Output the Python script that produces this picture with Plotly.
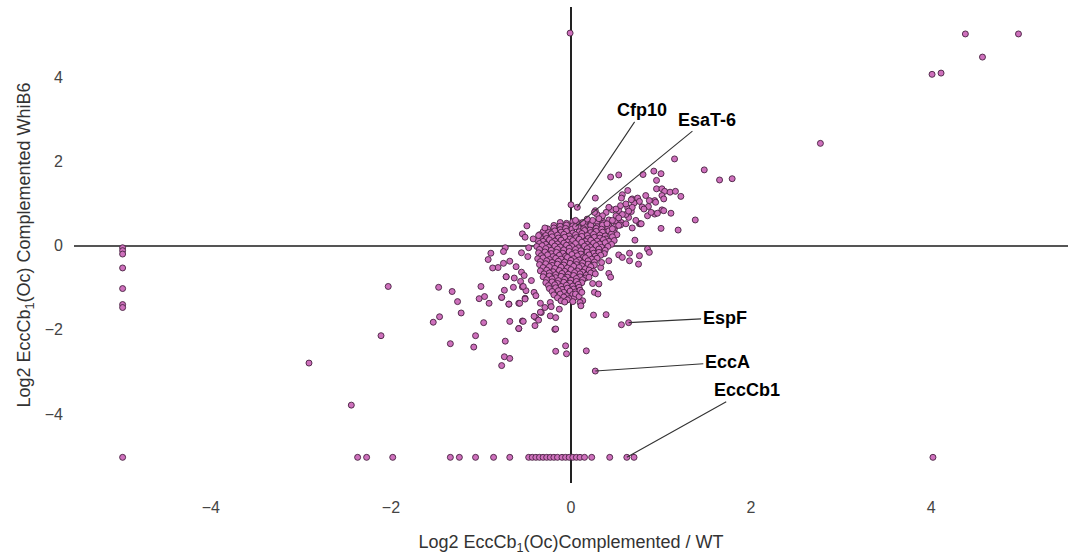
import plotly.graph_objects as go

# ---- data (log2 ratios) ----
core_points = [
    (-0.12, 0.55), (-0.05, 0.53), (0.02, 0.57), (0.09, 0.54), (0.16, 0.56), (0.22, 0.52), (0.29, 0.57), (0.36, 0.55), (0.42, 0.53), (0.49, 0.58), (0.56, 0.55),
    (-0.19, 0.48), (-0.12, 0.46), (-0.05, 0.49), (0.02, 0.47), (0.09, 0.50), (0.15, 0.46), (0.22, 0.48), (0.29, 0.45), (0.35, 0.49), (0.42, 0.47), (0.49, 0.45), (0.55, 0.49),
    (-0.26, 0.40), (-0.19, 0.42), (-0.12, 0.38), (-0.06, 0.41), (0.01, 0.39), (0.08, 0.43), (0.14, 0.40), (0.21, 0.37), (0.28, 0.41), (0.34, 0.39), (0.41, 0.42), (0.48, 0.38),
    (-0.31, 0.33), (-0.25, 0.31), (-0.18, 0.35), (-0.11, 0.32), (-0.05, 0.34), (0.02, 0.30), (0.09, 0.33), (0.15, 0.36), (0.22, 0.31), (0.28, 0.34), (0.35, 0.32), (0.42, 0.35), (0.48, 0.31),
    (-0.35, 0.26), (-0.28, 0.24), (-0.22, 0.28), (-0.15, 0.25), (-0.08, 0.27), (-0.02, 0.23), (0.05, 0.26), (0.12, 0.29), (0.18, 0.24), (0.25, 0.27), (0.32, 0.25), (0.38, 0.23), (0.45, 0.28), (0.51, 0.26),
    (-0.34, 0.19), (-0.27, 0.17), (-0.21, 0.21), (-0.14, 0.18), (-0.07, 0.20), (-0.01, 0.16), (0.06, 0.19), (0.12, 0.22), (0.19, 0.17), (0.26, 0.20), (0.32, 0.18), (0.39, 0.16), (0.46, 0.21),
    (-0.37, 0.12), (-0.31, 0.10), (-0.24, 0.14), (-0.18, 0.11), (-0.11, 0.13), (-0.04, 0.09), (0.02, 0.12), (0.09, 0.15), (0.16, 0.10), (0.22, 0.13), (0.29, 0.11), (0.36, 0.14), (0.42, 0.10), (0.48, 0.12),
    (-0.35, 0.05), (-0.28, 0.03), (-0.21, 0.07), (-0.15, 0.04), (-0.08, 0.06), (-0.01, 0.02), (0.05, 0.05), (0.12, 0.08), (0.18, 0.03), (0.25, 0.06), (0.32, 0.04), (0.38, 0.07), (0.45, 0.03),
    (-0.38, -0.02), (-0.32, 0.00), (-0.25, -0.04), (-0.18, -0.01), (-0.12, -0.03), (-0.05, 0.01), (0.01, -0.02), (0.08, -0.05), (0.15, -0.01), (0.21, -0.03), (0.28, 0.00), (0.34, -0.04), (0.41, -0.02),
    (-0.35, -0.09), (-0.28, -0.07), (-0.22, -0.11), (-0.15, -0.08), (-0.08, -0.10), (-0.02, -0.06), (0.05, -0.09), (0.11, -0.12), (0.18, -0.07), (0.24, -0.10), (0.31, -0.08), (0.38, -0.11),
    (-0.36, -0.17), (-0.29, -0.15), (-0.22, -0.19), (-0.16, -0.16), (-0.09, -0.18), (-0.02, -0.14), (0.05, -0.17), (0.11, -0.20), (0.18, -0.15), (0.25, -0.18), (0.31, -0.16), (0.37, -0.19),
    (-0.33, -0.24), (-0.26, -0.22), (-0.20, -0.26), (-0.13, -0.23), (-0.06, -0.25), (0.01, -0.21), (0.07, -0.24), (0.14, -0.27), (0.20, -0.22), (0.27, -0.25), (0.33, -0.23),
    (-0.37, -0.31), (-0.31, -0.29), (-0.24, -0.33), (-0.17, -0.30), (-0.11, -0.32), (-0.04, -0.28), (0.03, -0.31), (0.09, -0.34), (0.16, -0.29), (0.23, -0.32), (0.29, -0.30),
    (-0.34, -0.38), (-0.27, -0.36), (-0.21, -0.40), (-0.14, -0.37), (-0.07, -0.39), (0.00, -0.35), (0.06, -0.38), (0.13, -0.41), (0.19, -0.36), (0.26, -0.39),
    (-0.35, -0.45), (-0.28, -0.43), (-0.21, -0.47), (-0.15, -0.44), (-0.08, -0.46), (-0.01, -0.42), (0.06, -0.45), (0.12, -0.48), (0.19, -0.44), (0.26, -0.46),
    (-0.31, -0.52), (-0.24, -0.50), (-0.18, -0.54), (-0.11, -0.51), (-0.04, -0.53), (0.03, -0.49), (0.09, -0.52), (0.16, -0.55), (0.22, -0.50),
    (-0.34, -0.60), (-0.27, -0.58), (-0.20, -0.62), (-0.13, -0.59), (-0.07, -0.61), (0.00, -0.57), (0.07, -0.60), (0.13, -0.63), (0.20, -0.58), (0.25, -0.61),
    (-0.30, -0.67), (-0.24, -0.65), (-0.17, -0.69), (-0.10, -0.66), (-0.03, -0.68), (0.04, -0.64), (0.10, -0.67), (0.17, -0.70), (0.22, -0.65),
    (-0.31, -0.74), (-0.24, -0.72), (-0.17, -0.76), (-0.11, -0.73), (-0.04, -0.75), (0.03, -0.71), (0.10, -0.74), (0.16, -0.77),
    (-0.27, -0.81), (-0.21, -0.79), (-0.14, -0.83), (-0.07, -0.80), (0.00, -0.82), (0.06, -0.78), (0.13, -0.81),
    (-0.28, -0.88), (-0.21, -0.86), (-0.15, -0.90), (-0.08, -0.87), (-0.01, -0.89), (0.06, -0.85), (0.12, -0.88),
    (-0.25, -0.95), (-0.18, -0.93), (-0.11, -0.97), (-0.05, -0.94), (0.02, -0.96), (0.08, -0.92),
    (-0.24, -1.02), (-0.17, -1.00), (-0.10, -1.04), (-0.04, -1.01), (0.03, -1.03), (0.09, -0.99),
    (-0.21, -1.09), (-0.14, -1.07), (-0.08, -1.11), (-0.01, -1.08), (0.05, -1.10), (0.10, -1.06),
    (-0.19, -1.17), (-0.12, -1.15), (-0.05, -1.19), (0.02, -1.16), (0.07, -1.18),
    (-0.15, -1.24), (-0.08, -1.22), (-0.02, -1.26), (0.04, -1.23),
    (-0.11, -1.31), (-0.04, -1.29), (0.02, -1.33),
]

arm_points = [
    (1.15, 2.06), (0.44, 1.63), (0.53, 1.68), (0.80, 1.69), (0.92, 1.77), (1.00, 1.71), (0.95, 1.55),
    (0.27, 1.13), (0.63, 1.31), (0.57, 1.21), (0.56, 1.13), (0.68, 1.11), (0.74, 1.13), (0.76, 1.05),
    (0.70, 1.01), (0.79, 0.92), (0.95, 1.35), (1.01, 1.35), (1.04, 1.29), (1.10, 1.27), (1.16, 1.29),
    (1.22, 1.17), (1.01, 1.19), (1.03, 1.11), (0.93, 1.07), (0.86, 0.93), (1.01, 0.85), (1.11, 0.77),
    (0.93, 0.75), (0.85, 0.71), (1.38, 0.61), (1.19, 0.37), (1.00, 0.41), (0.76, 0.52), (0.64, 0.67),
    (0.61, 0.74), (0.67, 0.81), (0.63, 0.90), (0.53, 0.83), (0.46, 0.85), (0.50, 0.71), (0.42, 0.61),
    (0.34, 0.66), (0.29, 0.74), (0.24, 0.60), (0.18, 0.63), (0.13, 0.55), (0.05, 0.60), (0.27, 0.83),
    (0.50, 0.87), (0.55, 0.95), (0.61, 0.99), (0.67, 1.09), (0.68, 0.91), (0.64, 0.82), (0.57, 0.74),
    (0.53, 0.66), (0.46, 0.60), (0.72, 0.60), (0.77, 0.52), (0.61, 0.52), (0.53, 0.48), (0.46, 0.40),
    (0.68, 0.42), (0.83, 1.19), (0.87, 1.07), (0.81, 0.87), (0.94, 1.03), (0.89, 0.79), (0.96, 0.77),
    (1.03, 0.83), (0.42, 0.91), (0.39, 0.79), (0.35, 0.71), (0.31, 0.64), (0.40, 0.52), (0.26, 0.79),
    (0.00, 0.97), (0.71, 0.13), (0.78, 0.52),
]

halo_points = [
    (-0.49, 0.47), (-0.54, 0.28), (-0.51, 0.20), (-0.73, -0.05), (-0.75, -0.14), (-0.89, -0.18),
    (-0.92, -0.33), (-0.81, -0.52), (-0.87, -0.53), (-0.75, -0.42), (-0.68, -0.37), (-0.61, -0.50),
    (-0.55, -0.17), (-0.48, -0.26), (-0.55, -0.63), (-0.52, -0.71), (-0.72, -0.74), (-0.63, -0.77),
    (-0.44, -0.83), (-0.54, -0.98), (-0.41, -1.11), (-0.39, -1.19), (-0.50, -1.07), (-0.51, -1.25),
    (-0.58, -1.37), (-0.77, -1.23), (-0.69, -1.39), (-0.34, -1.37), (-0.33, -1.59), (-0.23, -1.35),
    (-0.29, -1.47), (-0.13, -1.51), (-0.23, -1.67), (-0.17, -1.71), (-0.39, -1.71), (-0.54, -1.79),
    (-0.58, -1.97), (-0.40, -1.90), (-0.18, -1.99), (-0.29, 0.42), (-0.36, 0.24), (-0.42, 0.16),
    (-0.47, -0.05), (-0.64, -0.99), (-0.56, -0.85), (-0.53, -0.97), (-0.51, -1.27), (-0.74, -1.06),
    (-0.72, -0.74), (-0.36, -1.77), (-0.34, -1.58), (-0.41, -1.68), (-0.22, -1.45), (-0.07, -1.34),
    (-0.17, -1.98), (-0.17, -2.51), (-0.06, -2.38), (-0.05, -2.57),
    (0.05, -1.15), (0.09, -1.21), (0.12, -1.11), (0.13, -1.31), (0.10, -1.35), (0.11, -1.43),
    (0.26, -1.11), (0.30, -1.15), (0.31, -0.91), (0.24, -0.90), (0.20, -0.75), (0.27, -0.67),
    (0.33, -0.52), (0.42, -0.66), (0.44, -0.75), (0.34, -0.40), (0.42, -0.36), (0.53, -0.22),
    (0.57, -0.28), (0.65, -0.18), (0.65, -0.36), (0.76, -0.24), (0.75, -0.44), (0.85, -0.08),
    (0.87, -0.16), (0.17, -2.50), (0.25, -1.65), (0.39, -1.64), (0.56, -1.88),
]

sparse_points = [
    (-1.47, -0.99), (-1.32, -1.09), (-1.26, -1.33), (-1.53, -1.82), (-1.46, -1.69), (-1.22, -1.60),
    (-1.34, -2.33), (-1.00, -0.97), (-1.02, -1.26), (-0.96, -1.21), (-0.91, -1.37), (-0.97, -1.83),
    (-1.06, -2.14), (-1.08, -2.41), (-0.73, -2.27), (-0.74, -2.64), (-0.68, -2.68), (-0.77, -2.85),
    (-0.77, -1.23), (-0.69, -1.39), (-0.68, -1.80), (-0.57, -1.37), (-0.58, -1.97), (-0.53, -1.80),
    (-2.03, -0.97), (-2.11, -2.14), (-2.91, -2.79), (-2.44, -3.79),
    (1.48, 1.80), (1.65, 1.56), (1.79, 1.59), (2.77, 2.43),
    (4.38, 5.03), (4.97, 5.03), (4.57, 4.48), (4.01, 4.07), (4.11, 4.10), (-0.01, 5.05),
]

floor_x = [-4.98, -2.37, -2.27, -1.98, -1.34, -1.24, -1.06, -0.86, -0.68, -0.47, -0.43, -0.39,
           -0.35, -0.31, -0.27, -0.23, -0.19, -0.15, -0.10, -0.06, -0.02, 0.02, 0.06, 0.10,
           0.15, 0.23, 0.43, 0.70, 4.02]
floor_y = -5.03

left_wall_x = -4.98
left_wall_y = [-0.05, -0.12, -0.20, -0.53, -1.02, -1.40, -1.47]

gene_names = ["Cfp10", "EsaT-6", "EspF", "EccA", "EccCb1"]
gene_x = [0.07, 0.05, 0.64, 0.27, 0.62]
gene_y = [0.91, 0.45, -1.83, -2.98, -5.03]

# ---- assemble ----
xs, ys = [], []
for grp in (core_points, arm_points, halo_points, sparse_points):
    for px, py in grp:
        xs.append(px)
        ys.append(py)
for fx in floor_x:
    xs.append(fx)
    ys.append(floor_y)
for wy in left_wall_y:
    xs.append(left_wall_x)
    ys.append(wy)
xs += gene_x
ys += gene_y

fig = go.Figure()
fig.add_trace(go.Scatter(
    x=xs, y=ys, mode="markers",
    marker=dict(size=6, color="rgb(206,112,188)",
                line=dict(color="rgb(70,32,64)", width=0.9)),
    hoverinfo="x+y", showlegend=False,
))

# label offsets (pixels) from each gene point to its text centre
offsets = {"Cfp10": (65, -97), "EsaT-6": (131, -107), "EspF": (96, -5),
           "EccA": (132, -9), "EccCb1": (120, -67)}
for name, gx, gy in zip(gene_names, gene_x, gene_y):
    ax, ay = offsets[name]
    fig.add_annotation(x=gx, y=gy, text=f"<b>{name}</b>", showarrow=True,
                       ax=ax, ay=ay, arrowhead=0, arrowwidth=1.1,
                       arrowcolor="#333333", standoff=0, startstandoff=0,
                       font=dict(family="Liberation Sans, Arial, sans-serif",
                                 size=18, color="black"))

axis_font = dict(family="Liberation Sans, Arial, sans-serif", size=16, color="#444444")
fig.update_layout(
    width=1068, height=559,
    margin=dict(l=74, r=0, t=7, b=76),
    paper_bgcolor="white", plot_bgcolor="white",
    font=axis_font,
    xaxis=dict(range=[-5.52, 5.52], tickvals=[-4, -2, 0, 2, 4], showgrid=False,
               zeroline=True, zerolinecolor="#222222", zerolinewidth=2,
               showline=False, ticks="", ticklabelstandoff=13,
               title=dict(text="Log2 EccCb<sub>1</sub>(Oc)Complemented / WT",
                          font=dict(size=18, color="#333333"), standoff=20)),
    yaxis=dict(range=[-5.64, 5.67], tickvals=[-4, -2, 0, 2, 4], showgrid=False,
               zeroline=True, zerolinecolor="#555555", zerolinewidth=2,
               showline=False, ticks="", ticklabelstandoff=10,
               title=dict(text="Log2 EccCb<sub>1</sub>(Oc) Complemented WhiB6",
                          font=dict(size=18, color="#333333"), standoff=9)),
)

fig.write_html("out.html", config={"displayModeBar": False},
               post_script="document.body.style.margin='0';")
